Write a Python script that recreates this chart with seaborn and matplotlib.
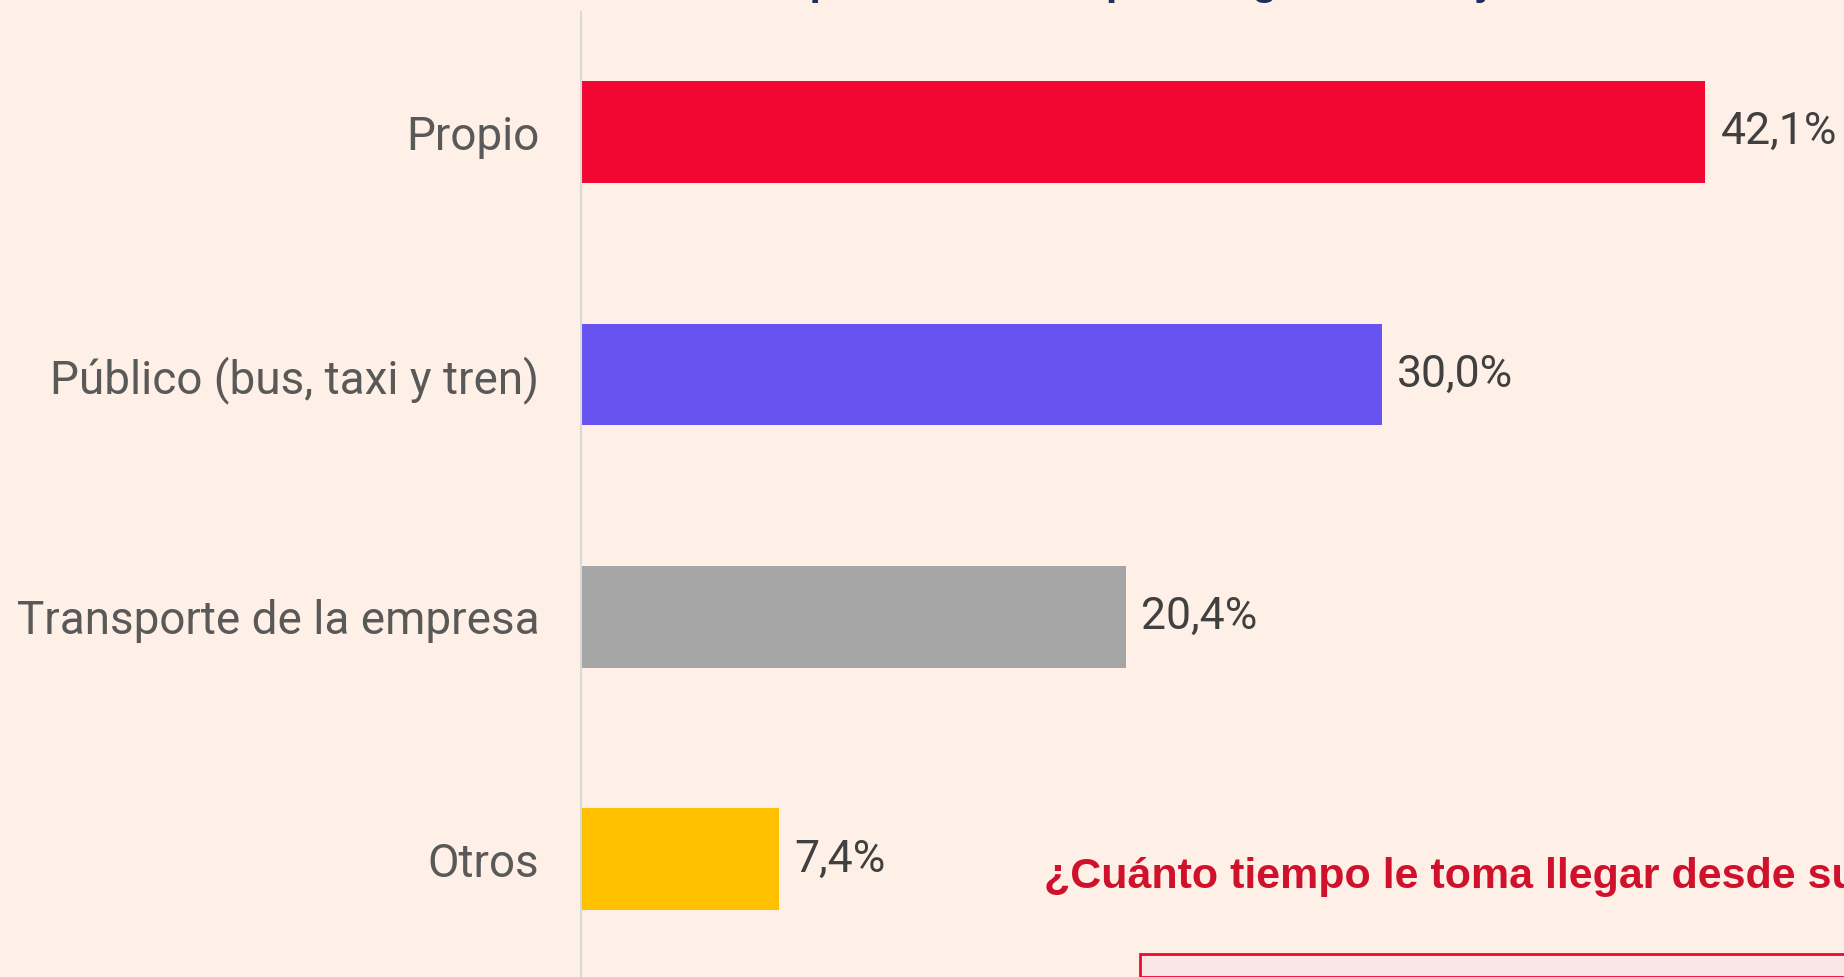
import matplotlib
matplotlib.use("Agg")
import matplotlib.pyplot as plt
import seaborn as sns
from matplotlib.patches import Rectangle

# datos
categorias = ["Propio", "Público (bus, taxi y tren)", "Transporte de la empresa", "Otros"]
valores = [42.1, 30.0, 20.4, 7.4]
etiquetas = ["42,1%", "30,0%", "20,4%", "7,4%"]
colores = ["#F20732", "#6853F0", "#A5A5A5", "#FFC000"]

titulo = "Transporte utilizado para llegar al trabajo"
pregunta = "¿Cuánto tiempo le toma llegar desde su casa al trabajo?"

fondo = "#FEF0E6"

sns.set_theme(style="white")
plt.rcParams["font.family"] = ["Roboto", "DejaVu Sans"]

fig = plt.figure(figsize=(18.44, 9.77), dpi=100, facecolor=fondo)
ax = fig.add_axes([581 / 1844, 0, 1 - 581 / 1844, 965 / 977])
ax.set_facecolor(fondo)

sns.barplot(x=valores, y=categorias, hue=categorias, palette=colores,
            width=0.42, legend=False, orient="h", saturation=1,
            linewidth=0, ax=ax)

for cont, lab in zip(ax.containers, etiquetas):
    ax.bar_label(cont, labels=[lab], padding=11, fontsize=32, color="#404040")

ax.set_xlim(0, 47.3)
ax.set_ylim(3.485, -0.495)
ax.set_xlabel("")
ax.set_ylabel("")
ax.set_xticks([])
ax.tick_params(axis="y", length=0, pad=30, labelsize=33, labelcolor="#595959")

for s in ["top", "right", "bottom"]:
    ax.spines[s].set_visible(False)
ax.spines["left"].set_color("#D9D9D9")
ax.spines["left"].set_linewidth(1.5)

# titulo cortado arriba
fig.text(0.60, 1 + 6 / 977, titulo, ha="center", va="baseline", fontsize=30,
         fontweight="bold", color="#1F2F5C", family=["Liberation Sans", "DejaVu Sans"])

# pregunta siguiente en rojo
fig.text(1044 / 1844, 1 - 888 / 977, pregunta, ha="left", va="baseline", fontsize=31,
         fontweight="bold", color="#D0112B", family=["Liberation Sans", "DejaVu Sans"])

# recuadro abajo a la derecha
fig.patches.append(Rectangle((1140 / 1844, 0), 1 - 1140 / 1844 + 0.01, (977 - 964) / 977 + 0.01,
                             transform=fig.transFigure, facecolor="#F9E6E6",
                             edgecolor="#F20732", linewidth=2, clip_on=False))

fig.savefig("out.png", dpi=100, facecolor=fondo)
